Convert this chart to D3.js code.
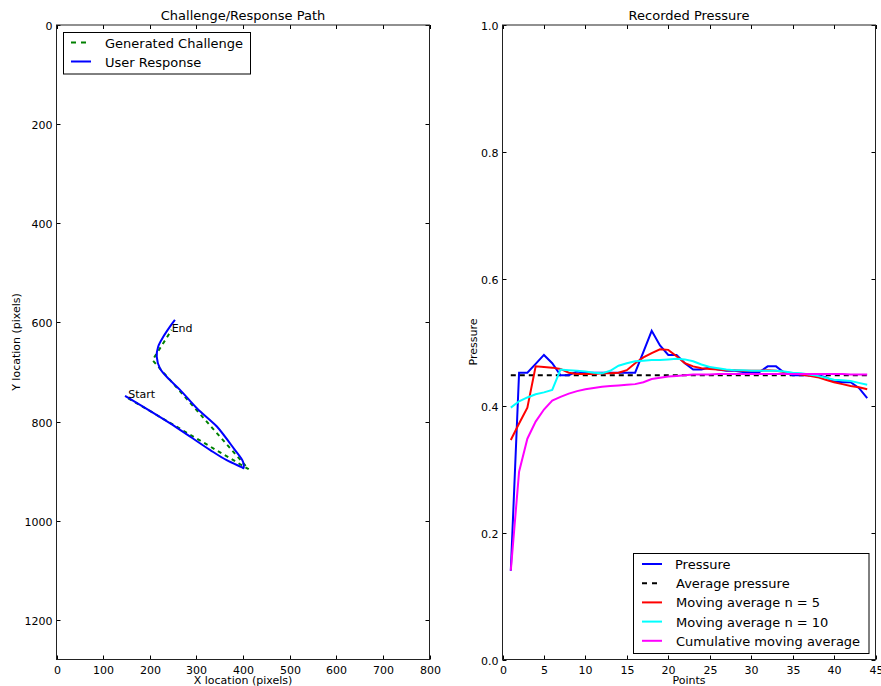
<!DOCTYPE html>
<html>
<head>
<meta charset="utf-8">
<script src="https://cdn.jsdelivr.net/npm/d3@7"></script>
<style>
  body { margin: 0; background: #fff; }
  text { font-family: "DejaVu Sans", sans-serif; fill: #000; }
</style>
</head>
<body>
<svg id="chart" width="881" height="686"></svg>
<script>
// Left panel: challenge vs response path (x, y in screen pixels)
const challengeX = [154, 412, 206, 247];
const challengeY = [753, 896, 676, 615];
const responseX = [147, 243, 286, 329, 365, 397, 401, 400, 380, 344, 329, 301, 265, 243, 222, 215, 218, 229, 243, 254];
const responseY = [748, 803, 830, 857, 878, 892, 894, 881, 854, 810, 797, 773, 736, 716, 693, 669, 649, 629, 609, 595];

// Right panel: pressure readings per point
const points = d3.range(1, 45);
const pressure = [0.140, 0.452, 0.452, 0.466, 0.480, 0.467, 0.448, 0.448, 0.454, 0.452,
  0.452, 0.452, 0.452, 0.452, 0.452, 0.452, 0.485, 0.518, 0.495, 0.480,
  0.480, 0.467, 0.457, 0.457, 0.460, 0.457, 0.455, 0.455, 0.453, 0.453,
  0.453, 0.462, 0.462, 0.452, 0.448, 0.448, 0.448, 0.448, 0.445, 0.438,
  0.437, 0.437, 0.428, 0.412];
const avgPressure = 0.448;
const movingAvg5 = [0.346, 0.372, 0.397, 0.462, 0.461, 0.460, 0.458, 0.452, 0.450, 0.450,
  0.450, 0.451, 0.451, 0.452, 0.456, 0.467, 0.476, 0.483, 0.489, 0.488,
  0.478, 0.467, 0.462, 0.459, 0.458, 0.457, 0.456, 0.456, 0.455, 0.455,
  0.455, 0.456, 0.455, 0.453, 0.451, 0.449, 0.447, 0.445, 0.441, 0.437,
  0.434, 0.431, 0.429, 0.426];
const movingAvg10 = [0.397, 0.407, 0.413, 0.418, 0.421, 0.425, 0.457, 0.456, 0.455, 0.454,
  0.452, 0.451, 0.455, 0.463, 0.467, 0.470, 0.471, 0.472, 0.472, 0.473,
  0.474, 0.473, 0.470, 0.465, 0.461, 0.459, 0.457, 0.456, 0.456, 0.455,
  0.455, 0.455, 0.455, 0.454, 0.452, 0.451, 0.449, 0.447, 0.444, 0.441,
  0.440, 0.439, 0.436, 0.433];
const cumulativeAvg = [0.140, 0.296, 0.348, 0.375, 0.394, 0.408, 0.414, 0.419, 0.423, 0.426,
  0.428, 0.430, 0.431, 0.432, 0.433, 0.434, 0.437, 0.442, 0.444, 0.446,
  0.447, 0.448, 0.449, 0.449, 0.449, 0.450, 0.450, 0.450, 0.450, 0.450,
  0.450, 0.450, 0.450, 0.450, 0.450, 0.450, 0.450, 0.450, 0.450, 0.450,
  0.450, 0.449, 0.449, 0.449];

const xTicksLeft = [0, 100, 200, 300, 400, 500, 600, 700, 800];
const yTicksLeft = [0, 200, 400, 600, 800, 1000, 1200];
const xTicksRight = [0, 5, 10, 15, 20, 25, 30, 35, 40, 45];
const yTicksRight = [0.0, 0.2, 0.4, 0.6, 0.8, 1.0];

const svg = d3.select("#chart");
const TOP = 25, BOTTOM = 659.5;

// Draw frame + inward ticks on all four sides (matplotlib classic)
function drawFrame(g, x, y, xTicks, yTicks, xFmt, yFmt) {
  const [x0, x1] = x.range();
  const [ya, yb] = y.range();
  const y0 = Math.min(ya, yb), y1 = Math.max(ya, yb);
  const tl = 4;
  const tick = g.append("g").attr("stroke", "#000").attr("stroke-width", 1);
  xTicks.forEach((t) => {
    const px = Math.round(x(t)) + 0.5;
    tick.append("line").attr("x1", px).attr("x2", px).attr("y1", y1).attr("y2", y1 - tl);
    tick.append("line").attr("x1", px).attr("x2", px).attr("y1", y0).attr("y2", y0 + tl);
    g.append("text").attr("x", px).attr("y", y1 + 14).attr("text-anchor", "middle")
      .style("font-size", "11px").text(xFmt(t));
  });
  yTicks.forEach((t) => {
    const py = Math.round(y(t)) + 0.5;
    tick.append("line").attr("x1", x0).attr("x2", x0 + tl).attr("y1", py).attr("y2", py);
    tick.append("line").attr("x1", x1).attr("x2", x1 - tl).attr("y1", py).attr("y2", py);
    g.append("text").attr("x", x0 - 4).attr("y", py + 4).attr("text-anchor", "end")
      .style("font-size", "11px").text(yFmt(t));
  });
  g.append("rect").attr("x", x0).attr("y", y0).attr("width", x1 - x0).attr("height", y1 - y0)
    .attr("fill", "none").attr("stroke", "#222").attr("stroke-width", 1);
}

// ---------- Left panel ----------
const xL = d3.scaleLinear().domain([0, 800]).range([56.5, 429.5]);
const yL = d3.scaleLinear().domain([0, 1280]).range([TOP, BOTTOM]);
const left = svg.append("g");

const pathLine = d3.line().x((d) => xL(d[0])).y((d) => yL(d[1]));
const challenge = challengeX.map((v, i) => [v, challengeY[i]]);
const response = responseX.map((v, i) => [v, responseY[i]]);

left.append("path").datum(challenge).attr("d", pathLine)
  .attr("fill", "none").attr("stroke", "#008000").attr("stroke-width", 2)
  .attr("stroke-dasharray", "4,4");
left.append("path").datum(response).attr("d", d3.line().curve(d3.curveCatmullRom)
  .x((d) => xL(d[0])).y((d) => yL(d[1])))
  .attr("fill", "none").attr("stroke", "#0000ff").attr("stroke-width", 2);

left.append("text").attr("x", xL(challenge[0][0])).attr("y", yL(challenge[0][1]))
  .style("font-size", "11px").text("Start");
left.append("text").attr("x", xL(challenge[3][0])).attr("y", yL(challenge[3][1]) + 2)
  .style("font-size", "11px").text("End");

drawFrame(left, xL, yL, xTicksLeft, yTicksLeft, d3.format("d"), d3.format("d"));

left.append("text").attr("x", (56.5 + 429.5) / 2).attr("y", 20).attr("text-anchor", "middle")
  .style("font-size", "13px").text("Challenge/Response Path");
left.append("text").attr("x", (56.5 + 429.5) / 2).attr("y", 684).attr("text-anchor", "middle")
  .style("font-size", "11px").text("X location (pixels)");
left.append("text").attr("transform", "translate(20,342) rotate(-90)").attr("text-anchor", "middle")
  .style("font-size", "11px").text("Y location (pixels)");

// legend
const legL = left.append("g");
legL.append("rect").attr("x", 63.5).attr("y", 32.5).attr("width", 187).attr("height", 41.5)
  .attr("fill", "#fff").attr("stroke", "#000");
legL.append("line").attr("x1", 71).attr("x2", 91).attr("y1", 42.5).attr("y2", 42.5)
  .attr("stroke", "#008000").attr("stroke-width", 2).attr("stroke-dasharray", "5,5");
legL.append("line").attr("x1", 71).attr("x2", 91).attr("y1", 61.5).attr("y2", 61.5)
  .attr("stroke", "#0000ff").attr("stroke-width", 2);
legL.append("text").attr("x", 105).attr("y", 47.5).style("font-size", "13px").text("Generated Challenge");
legL.append("text").attr("x", 105).attr("y", 66.5).style("font-size", "13px").text("User Response");

// ---------- Right panel ----------
const xR = d3.scaleLinear().domain([0, 45]).range([502.5, 875.5]);
const yR = d3.scaleLinear().domain([0, 1]).range([BOTTOM, TOP]);
const right = svg.append("g");

const series = [
  { name: "Pressure", values: pressure, color: "#0000ff" },
  { name: "Moving average n = 5", values: movingAvg5, color: "#ff0000" },
  { name: "Moving average n = 10", values: movingAvg10, color: "#00ffff" },
  { name: "Cumulative moving average", values: cumulativeAvg, color: "#ff00ff" },
];
const seriesLine = d3.line().x((d) => xR(d[0])).y((d) => yR(d[1]));

right.append("path").datum(points.map((p) => [p, avgPressure])).attr("d", seriesLine)
  .attr("fill", "none").attr("stroke", "#000").attr("stroke-width", 2)
  .attr("stroke-dasharray", "5,4");
series.forEach((s) => {
  right.append("path").datum(points.map((p, i) => [p, s.values[i]])).attr("d", seriesLine)
    .attr("fill", "none").attr("stroke", s.color).attr("stroke-width", 2);
});

drawFrame(right, xR, yR, xTicksRight, yTicksRight, d3.format("d"), d3.format(".1f"));

right.append("text").attr("x", (502.5 + 875.5) / 2).attr("y", 20).attr("text-anchor", "middle")
  .style("font-size", "13px").text("Recorded Pressure");
right.append("text").attr("x", (502.5 + 875.5) / 2).attr("y", 684).attr("text-anchor", "middle")
  .style("font-size", "11px").text("Points");
right.append("text").attr("transform", "translate(477,342) rotate(-90)").attr("text-anchor", "middle")
  .style("font-size", "11px").text("Pressure");

// legend
const legendItems = [
  { name: "Pressure", color: "#0000ff", dash: null },
  { name: "Average pressure", color: "#000", dash: "5,5" },
  { name: "Moving average n = 5", color: "#ff0000", dash: null },
  { name: "Moving average n = 10", color: "#00ffff", dash: null },
  { name: "Cumulative moving average", color: "#ff00ff", dash: null },
];
const legR = right.append("g");
legR.append("rect").attr("x", 633.5).attr("y", 553.5).attr("width", 235.5).attr("height", 100)
  .attr("fill", "#fff").attr("stroke", "#000");
legendItems.forEach((d, i) => {
  const yy = 564 + i * 19.2;
  legR.append("line").attr("x1", 642).attr("x2", 662).attr("y1", yy).attr("y2", yy)
    .attr("stroke", d.color).attr("stroke-width", 2).attr("stroke-dasharray", d.dash);
  legR.append("text").attr("x", i === 0 ? 675 : 676).attr("y", yy + 5)
    .style("font-size", "13px").text(d.name);
});
</script>
</body>
</html>
